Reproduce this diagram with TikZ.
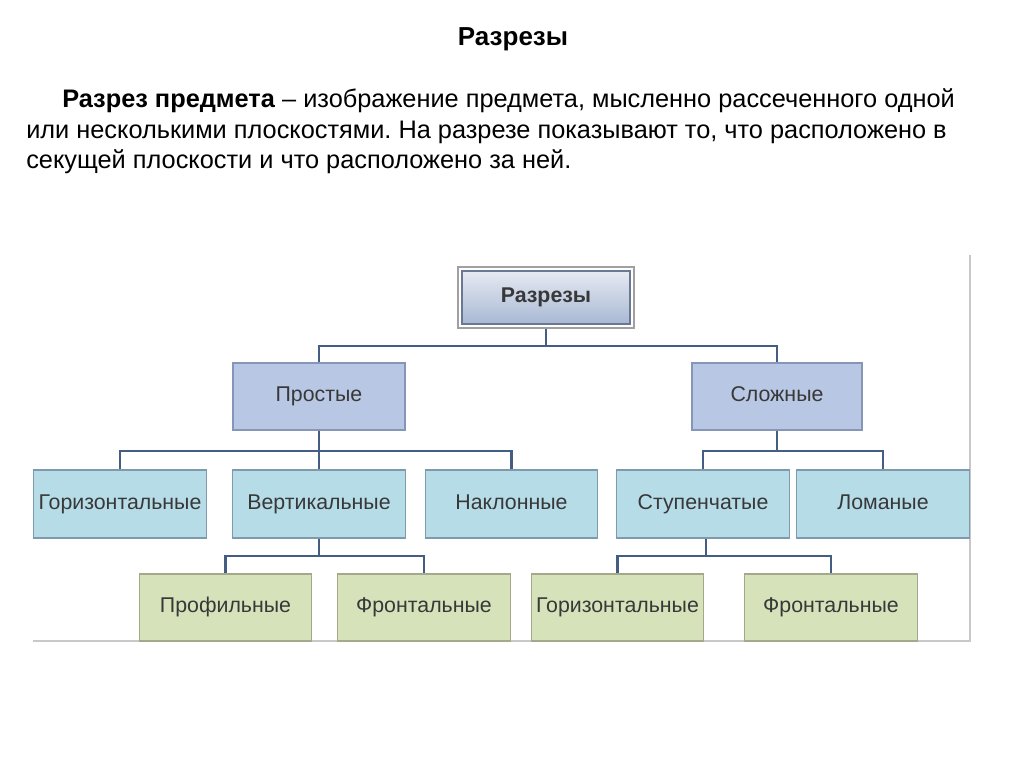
\documentclass[tikz,border=0pt]{standalone}
\usepackage{fontspec}
\setmainfont{Liberation Sans}
\frenchspacing
\definecolor{conn}{HTML}{435E82}
\definecolor{frameg}{HTML}{C8C8C8}
\definecolor{lvtwo}{HTML}{B8C7E3}
\definecolor{lvtwob}{HTML}{8596B8}
\definecolor{lvthree}{HTML}{B6DCE8}
\definecolor{lvthreeb}{HTML}{7F9AAE}
\definecolor{lvfour}{HTML}{D6E2BA}
\definecolor{lvfourb}{HTML}{A3A98A}
\definecolor{toptop}{HTML}{E6EAF2}
\definecolor{topbot}{HTML}{A8B8D4}
\definecolor{txt}{HTML}{383838}
\begin{document}
\begin{tikzpicture}[x=0.75pt,y=-0.75pt,
  bx/.style={inner sep=0pt, line width=0.9pt, font=\fontsize{16}{19}\selectfont, text=txt, text height=11.5pt, text depth=3.5pt},
  two/.style={bx, draw=lvtwob, fill=lvtwo, minimum width=129pt, minimum height=50.25pt},
  three/.style={bx, draw=lvthreeb, fill=lvthree, minimum width=129.5pt, minimum height=51pt},
  four/.style={bx, draw=lvfourb, fill=lvfour, minimum width=129.5pt, minimum height=50.25pt},
  cn/.style={draw=conn, line width=2.2pt},
  para/.style={anchor=base west, inner sep=0pt, font=\fontsize{19}{23}\selectfont}]
\useasboundingbox[fill=white] (0,0) rectangle (1024,767);
% headings
\node[anchor=base, inner sep=0pt, font=\fontsize{19.5}{23}\selectfont\bfseries] (title) at (513,46) {Разрезы};
\node[para] (l1) at (62,108) {\textbf{Разрез предмета} – изображение предмета, мысленно рассеченного одной};
\node[para] (l2) at (26,138) {или несколькими плоскостями. На разрезе показывают то, что расположено в};
\node[para] (l3) at (26,168) {секущей плоскости и что расположено за ней.};
% frame
\coordinate (fa) at (33,641);
\coordinate (fb) at (970,641);
\coordinate (fc) at (970,255);
\draw[frameg, line width=1pt] (fa) -- (fb) -- (fc);
% nodes
\node[draw=frameg!80!black, fill=white, line width=1pt, minimum width=132pt, minimum height=45.75pt, inner sep=0pt] (topf) at (546,297.5) {};
\node[inner sep=0pt, draw=lvtwob!80!black, line width=0.9pt, top color=toptop, bottom color=topbot, minimum width=126pt, minimum height=39.75pt, font=\fontsize{16}{19}\selectfont\bfseries, text=txt, text height=11.5pt, text depth=3.5pt] (top) at (546,297.5) {Разрезы};
\node[two] (pr) at (319,396.5) {Простые};
\node[two, minimum width=127.5pt] (sl) at (777,396.5) {Сложные};
\node[three] (h1) at (120,504) {Горизонтальные};
\node[three] (ve) at (319,504) {Вертикальные};
\node[three] (na) at (511.5,504) {Наклонные};
\node[three] (st) at (703,504) {Ступенчатые};
\node[three] (lo) at (883,504) {Ломаные};
% connectors
\coordinate (b1) at (546,346);
\coordinate (b2) at (319,451);
\coordinate (b3) at (777,451);
\coordinate (b4) at (319,556);
\coordinate (b5) at (706,556);
\draw[cn] (topf.south) -- (b1);
\draw[cn] (pr.north) |- (b1) -| (sl.north);
\draw[cn] (pr.south) -- (b2);
\draw[cn] (h1.north) |- (b2) -| (na.north);
\draw[cn] (ve.north) -- (b2);
\draw[cn] (sl.south) -- (b3);
\draw[cn] (st.north) |- (b3) -| (lo.north);
\node[four] (pf) at (225.5,607.5) {Профильные};
\node[four] (f1) at (424,607.5) {Фронтальные};
\node[four] (h2) at (617.5,607.5) {Горизонтальные};
\node[four] (f2) at (831,607.5) {Фронтальные};
\draw[cn] (ve.south) -- (b4);
\draw[cn] (pf.north) |- (b4) -| (f1.north);
\draw[cn] (st.south -| b5) -- (b5);
\draw[cn] (h2.north) |- (b5) -| (f2.north);
\end{tikzpicture}
\end{document}
